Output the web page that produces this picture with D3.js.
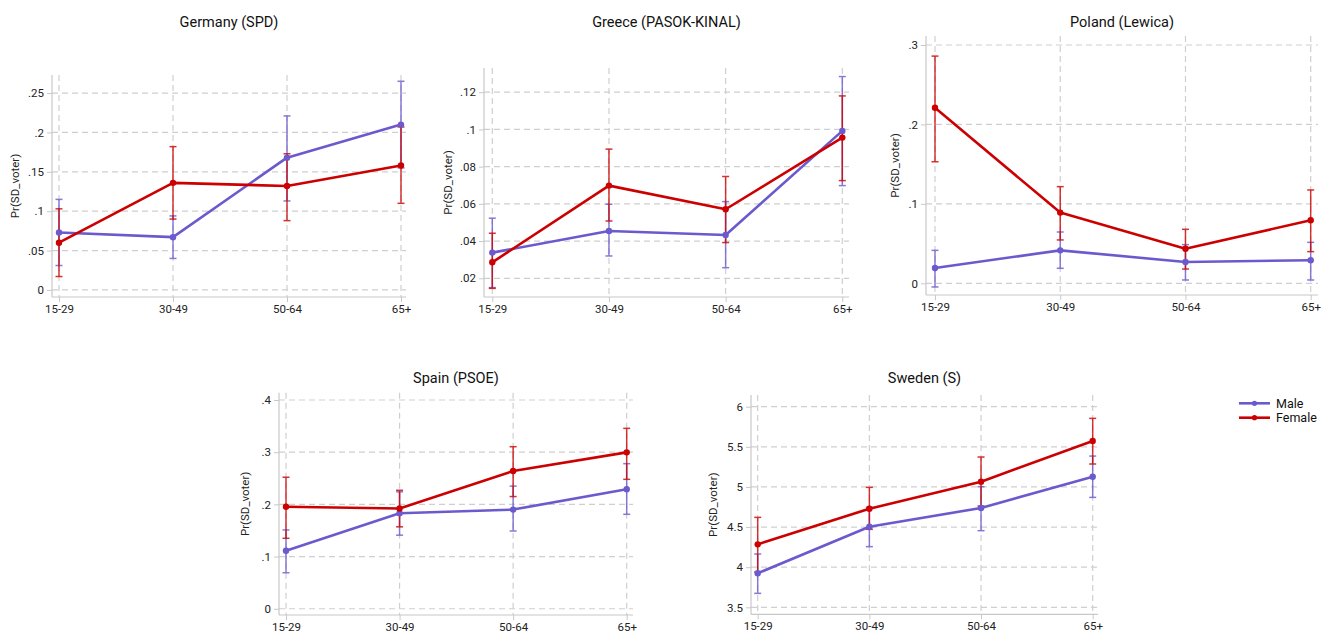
<!DOCTYPE html>
<html>
<head>
<meta charset="utf-8">
<script src="https://cdn.jsdelivr.net/npm/d3@7"></script>
<style>
  body { margin: 0; background: #fff; }
  svg { display: block; font-family: Roboto, "Noto Sans", sans-serif; }
</style>
</head>
<body>
<svg id="chart" width="1330" height="635"></svg>
<script>
// ---------------- DATA ----------------
const categories = ["15-29", "30-49", "50-64", "65+"];
const seriesNames = ["Male", "Female"];
const yLabel = "Pr(SD_voter)";

const countryTitles = ["Germany (SPD)", "Greece (PASOK-KINAL)", "Poland (Lewica)", "Spain (PSOE)", "Sweden (S)"];

const germanyMale     = [0.073, 0.067, 0.168, 0.210];
const germanyMaleLo   = [0.031, 0.040, 0.113, 0.155];
const germanyMaleHi   = [0.115, 0.094, 0.221, 0.265];
const germanyFemale   = [0.060, 0.136, 0.132, 0.158];
const germanyFemaleLo = [0.017, 0.090, 0.088, 0.110];
const germanyFemaleHi = [0.103, 0.182, 0.173, 0.207];
const germanyTicks    = [0, 0.05, 0.1, 0.15, 0.2, 0.25];

const greeceMale     = [0.0338, 0.0454, 0.0433, 0.0992];
const greeceMaleLo   = [0.0150, 0.0320, 0.0257, 0.0698];
const greeceMaleHi   = [0.0523, 0.0598, 0.0612, 0.1284];
const greeceFemale   = [0.0286, 0.0698, 0.0571, 0.0956];
const greeceFemaleLo = [0.0146, 0.0508, 0.0392, 0.0725];
const greeceFemaleHi = [0.0442, 0.0894, 0.0747, 0.1180];
const greeceTicks    = [0.02, 0.04, 0.06, 0.08, 0.1, 0.12];

const polandMale     = [0.0193, 0.0415, 0.0269, 0.0290];
const polandMaleLo   = [-0.0046, 0.0189, 0.0042, 0.0042];
const polandMaleHi   = [0.0415, 0.0646, 0.0487, 0.0516];
const polandFemale   = [0.221, 0.089, 0.0436, 0.0793];
const polandFemaleLo = [0.153, 0.0546, 0.018, 0.0399];
const polandFemaleHi = [0.286, 0.1217, 0.068, 0.1175];
const polandTicks    = [0, 0.1, 0.2, 0.3];

const spainMale     = [0.111, 0.183, 0.190, 0.229];
const spainMaleLo   = [0.069, 0.141, 0.149, 0.181];
const spainMaleHi   = [0.151, 0.224, 0.235, 0.278];
const spainFemale   = [0.1955, 0.192, 0.264, 0.2997];
const spainFemaleLo = [0.135, 0.157, 0.215, 0.248];
const spainFemaleHi = [0.252, 0.227, 0.3105, 0.3457];
const spainTicks    = [0, 0.1, 0.2, 0.3, 0.4];

const swedenMale     = [3.924, 4.505, 4.738, 5.128];
const swedenMaleLo   = [3.674, 4.256, 4.455, 4.870];
const swedenMaleHi   = [4.164, 4.746, 5.003, 5.385];
const swedenFemale   = [4.285, 4.729, 5.066, 5.572];
const swedenFemaleLo = [3.940, 4.472, 4.762, 5.286];
const swedenFemaleHi = [4.621, 4.995, 5.373, 5.855];
const swedenTicks    = [3.5, 4, 4.5, 5, 5.5, 6];

// ---------------- LAYOUT ----------------
const colors = { Male: "#6a5acd", Female: "#cc0000" };

const panels = [
  { title: countryTitles[0], male: [germanyMale, germanyMaleLo, germanyMaleHi], female: [germanyFemale, germanyFemaleLo, germanyFemaleHi], ticks: germanyTicks,
    ax: 52, right: 406, top: 75, bottom: 297, cat0: 59, cat1: 401, dom: [-0.009, 0.273], ylx: 15, ty: 27 },
  { title: countryTitles[1], male: [greeceMale, greeceMaleLo, greeceMaleHi], female: [greeceFemale, greeceFemaleLo, greeceFemaleHi], ticks: greeceTicks,
    ax: 484, right: 849, top: 68, bottom: 297, cat0: 492.3, cat1: 842.3, dom: [0.00995, 0.133], ylx: 448, ty: 27 },
  { title: countryTitles[2], male: [polandMale, polandMaleLo, polandMaleHi], female: [polandFemale, polandFemaleLo, polandFemaleHi], ticks: polandTicks,
    ax: 926, right: 1318, top: 36, bottom: 295, cat0: 935, cat1: 1310.7, dom: [-0.0147, 0.3113], ylx: 895, ty: 27 },
  { title: countryTitles[3], male: [spainMale, spainMaleLo, spainMaleHi], female: [spainFemale, spainFemaleLo, spainFemaleHi], ticks: spainTicks,
    ax: 279, right: 633, top: 392.7, bottom: 615, cat0: 286, cat1: 626.7, dom: [-0.012, 0.414], ylx: 245, ty: 383 },
  { title: countryTitles[4], male: [swedenMale, swedenMaleLo, swedenMaleHi], female: [swedenFemale, swedenFemaleLo, swedenFemaleHi], ticks: swedenTicks,
    ax: 751, right: 1098, top: 395, bottom: 614.3, cat0: 757.7, cat1: 1092.7, dom: [3.413, 6.146], ylx: 713, ty: 383 }
];

const svg = d3.select("#chart");
const fmt = v => {
  let s = String(+v.toFixed(3));
  if (s.startsWith("0.")) s = s.slice(1);
  if (s.startsWith("-0.")) s = "-" + s.slice(2);
  return s;
};

panels.forEach(p => {
  const g = svg.append("g");
  const x = d3.scalePoint().domain(categories).range([p.cat0, p.cat1]);
  const y = d3.scaleLinear().domain(p.dom).range([p.bottom, p.top]);

  // gridlines
  g.selectAll(".hg").data(p.ticks).join("line")
    .attr("x1", p.ax).attr("x2", p.right)
    .attr("y1", d => y(d)).attr("y2", d => y(d))
    .attr("stroke", "#cfcfcf").attr("stroke-width", 1.2).attr("stroke-dasharray", "6,4");
  g.selectAll(".vg").data(categories).join("line")
    .attr("x1", d => x(d)).attr("x2", d => x(d))
    .attr("y1", p.top).attr("y2", p.bottom)
    .attr("stroke", "#cfcfcf").attr("stroke-width", 1.2).attr("stroke-dasharray", "6,4");

  // y axis
  const yAxis = d3.axisLeft(y).tickValues(p.ticks).tickFormat(fmt).tickSize(5).tickPadding(3);
  const ya = g.append("g").attr("transform", `translate(${p.ax},0)`).call(yAxis);
  ya.select(".domain").attr("d", `M0,${p.top}V${p.bottom}`).attr("stroke", "#c8c8c8").attr("stroke-width", 1.2);
  ya.selectAll(".tick line").attr("stroke", "#c8c8c8");
  ya.selectAll(".tick text").attr("fill", "#222").style("font-size", "11.5px").style("font-family", "Roboto");

  // x axis
  const xAxis = d3.axisBottom(x).tickSize(5).tickPadding(3);
  const xa = g.append("g").attr("transform", `translate(0,${p.bottom})`).call(xAxis);
  xa.select(".domain").attr("d", `M${p.ax},0H${p.right}`).attr("stroke", "#c8c8c8").attr("stroke-width", 1.2);
  xa.selectAll(".tick line").attr("stroke", "#c8c8c8");
  xa.selectAll(".tick text").attr("fill", "#222").style("font-size", "11.5px").style("font-family", "Roboto");

  // y label
  g.append("text")
    .attr("transform", `translate(${p.ylx},${(p.top + p.bottom) / 2}) rotate(-90)`)
    .attr("text-anchor", "middle").attr("dy", "0.35em")
    .attr("fill", "#222").style("font-size", "11.5px")
    .text(yLabel);

  // title
  g.append("text")
    .attr("x", (p.ax + p.right) / 2).attr("y", p.ty)
    .attr("text-anchor", "middle").attr("fill", "#111").style("font-size", "14.5px")
    .text(p.title);

  const series = [{ name: "Male", d: p.male }, { name: "Female", d: p.female }];

  // CIs
  series.forEach(s => {
    const col = colors[s.name];
    const pts = categories.map((c, i) => ({ c, lo: s.d[1][i], hi: s.d[2][i] }));
    const cg = g.append("g").attr("stroke", col).attr("stroke-width", 1.5).attr("opacity", 0.8);
    cg.selectAll(".ci").data(pts).join("line")
      .attr("x1", d => x(d.c)).attr("x2", d => x(d.c))
      .attr("y1", d => y(d.lo)).attr("y2", d => y(d.hi));
    cg.selectAll(".capH").data(pts).join("line")
      .attr("x1", d => x(d.c) - 3.5).attr("x2", d => x(d.c) + 3.5)
      .attr("y1", d => y(d.hi)).attr("y2", d => y(d.hi));
    cg.selectAll(".capL").data(pts).join("line")
      .attr("x1", d => x(d.c) - 3.5).attr("x2", d => x(d.c) + 3.5)
      .attr("y1", d => y(d.lo)).attr("y2", d => y(d.lo));
  });

  // lines + markers
  series.forEach(s => {
    const col = colors[s.name];
    const pts = categories.map((c, i) => ({ c, v: s.d[0][i] }));
    g.append("path").datum(pts)
      .attr("fill", "none").attr("stroke", col).attr("stroke-width", 2.6)
      .attr("stroke-linejoin", "round")
      .attr("d", d3.line().x(d => x(d.c)).y(d => y(d.v)));
    g.selectAll(null).data(pts).join("circle")
      .attr("cx", d => x(d.c)).attr("cy", d => y(d.v)).attr("r", 3.2)
      .attr("fill", col);
  });
});

// legend
const legend = svg.append("g");
const legY = d3.scalePoint().domain(seriesNames).range([403.3, 417.7]);
seriesNames.forEach(n => {
  legend.append("line").attr("x1", 1239).attr("x2", 1270)
    .attr("y1", legY(n)).attr("y2", legY(n))
    .attr("stroke", colors[n]).attr("stroke-width", 2.6);
  legend.append("circle").attr("cx", 1254.5).attr("cy", legY(n)).attr("r", 2.6).attr("fill", colors[n]);
  legend.append("text").attr("x", 1276).attr("y", legY(n)).attr("dy", "0.35em")
    .attr("fill", "#111").style("font-size", "12.5px").text(n);
});
</script>
</body>
</html>
